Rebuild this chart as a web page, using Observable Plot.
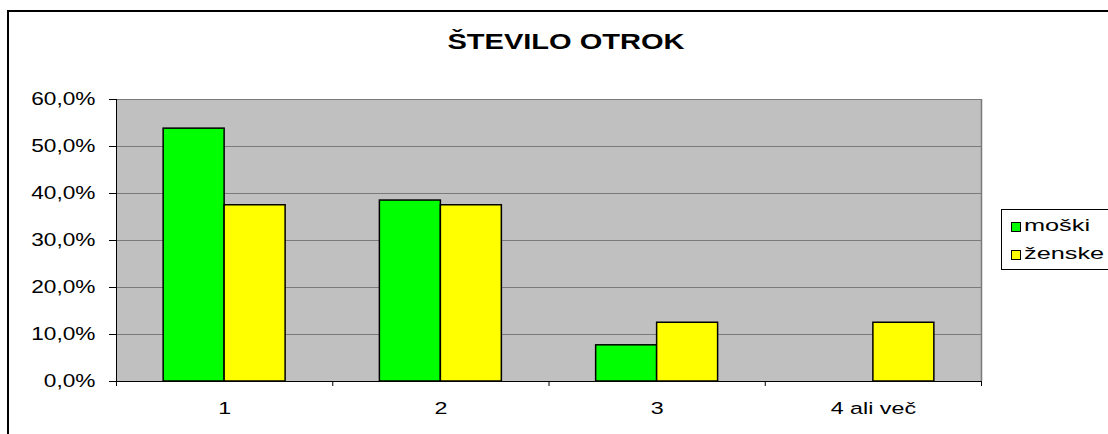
<!DOCTYPE html>
<html>
<head>
<meta charset="utf-8">
<script src="https://cdn.jsdelivr.net/npm/d3@7"></script>
<script src="https://cdn.jsdelivr.net/npm/@observablehq/plot@0.6"></script>
<style>
  body { margin: 0; overflow: hidden; background: white; font-family: "Liberation Sans", Arial, sans-serif; }
  #wrap { position: relative; width: 1108px; height: 434px; overflow: hidden; }
  #wrap svg { position: absolute; left: 0; top: 0; }
  .border { position: absolute; left: 7px; top: 10px; width: 1300px; height: 700px; border: 2px solid #000; pointer-events: none; }
  .title { position: absolute; left: 566px; top: 31px; font-size: 22px; line-height: 22px; font-weight: bold; white-space: nowrap; transform: translateX(-50%) scaleX(1.32); transform-origin: center; color: #000; }
  .legend { position: absolute; left: 1001px; top: 209px; width: 200px; height: 61px; box-sizing: border-box; border: 1px solid #000; background: white; }
  .sw { position: absolute; width: 8px; height: 8px; border: 1px solid #000; box-sizing: content-box; }
  .lt { position: absolute; font-size: 16px; line-height: 16px; white-space: nowrap; transform: scaleX(1.58); transform-origin: left center; color: #000; }
</style>
</head>
<body>
<div id="wrap"></div>
<script>
// ---- data ----
const categories = ["1", "2", "3", "4 ali več"];
const series = ["moški", "ženske"];
const moski = [0.538, 0.385, 0.077, 0];
const zenske = [0.375, 0.375, 0.125, 0.125];
const yTicks = [0, 0.1, 0.2, 0.3, 0.4, 0.5, 0.6];
const colors = ["#00ff00", "#ffff00"];
const title = "ŠTEVILO OTROK";

// ---- build table ----
const gap = 0.218;                 // outer gap as fraction of a category band
const w = (1 - 2 * gap) / series.length;
const values = [moski, zenske];
const rows = categories.flatMap((c, i) =>
  series.map((s, j) => ({cat: c, i, series: s, value: values[j][i], x1: i + gap + j * w, x2: i + gap + (j + 1) * w}))
);

const fmt = d => (d * 100).toFixed(1).replace(".", ",") + "%";

const chart = Plot.plot({
  width: 1108,
  height: 434,
  marginLeft: 116,
  marginRight: 127,
  marginTop: 99,
  marginBottom: 53,
  style: {background: "transparent", fontFamily: "'Liberation Sans', Arial, sans-serif", color: "#000"},
  x: {domain: [0, categories.length], label: null},
  y: {domain: [0, 0.6], label: null},
  color: {domain: series, range: colors},
  marks: [
    Plot.frame({fill: "#c0c0c0", stroke: "none"}),
    Plot.ruleY(yTicks.filter(d => d > 0), {stroke: "#7a7a7a", strokeWidth: 1.2}),
    Plot.ruleX([categories.length], {stroke: "#7a7a7a", strokeWidth: 1.5}),
    Plot.rect(rows.filter(d => d.value > 0), {x1: "x1", x2: "x2", y1: 0, y2: "value", fill: "series", stroke: "#000", strokeWidth: 1.5}),
    Plot.ruleX([0], {stroke: "#000"}),
    Plot.ruleY([0], {stroke: "#000"}),
    Plot.axisY({ticks: yTicks, tickSize: 7, tickPadding: 14, tickFormat: fmt, fontSize: 18, label: null}),
    Plot.axisX({ticks: d3.range(categories.length + 1), tickSize: 5, tickFormat: () => "", label: null}),
    Plot.axisX({ticks: categories.map((_, i) => i + 0.5), tickSize: 0, tickPadding: 20, tickFormat: d => categories[Math.floor(d)], fontSize: 17, label: null})
  ]
});

const wrap = document.getElementById("wrap");
wrap.appendChild(chart);

// horizontally stretch tick labels about their anchor (the reference's text is rendered wide)
function stretch(sel, k) {
  chart.querySelectorAll(sel).forEach(t => {
    const old = t.getAttribute("transform") || "";
    t.setAttribute("transform", `${old} scale(${k},1)`);
  });
}
stretch('g[aria-label="y-axis tick label"] text', 1.26);
stretch('g[aria-label="x-axis tick label"] text', 1.37);

// border
const border = document.createElement("div");
border.className = "border";
wrap.appendChild(border);

// title
const t = document.createElement("div");
t.className = "title";
t.textContent = title;
wrap.appendChild(t);

// legend
const lg = document.createElement("div");
lg.className = "legend";
const rowTops = [12, 40];
series.forEach((s, j) => {
  const sw = document.createElement("div");
  sw.className = "sw";
  sw.style.left = "9px";
  sw.style.top = rowTops[j] + "px";
  sw.style.background = colors[j];
  lg.appendChild(sw);
  const lt = document.createElement("div");
  lt.className = "lt";
  lt.style.left = "22px";
  lt.style.top = (rowTops[j] - 4) + "px";
  lt.textContent = s;
  lg.appendChild(lt);
});
wrap.appendChild(lg);
</script>
</body>
</html>
